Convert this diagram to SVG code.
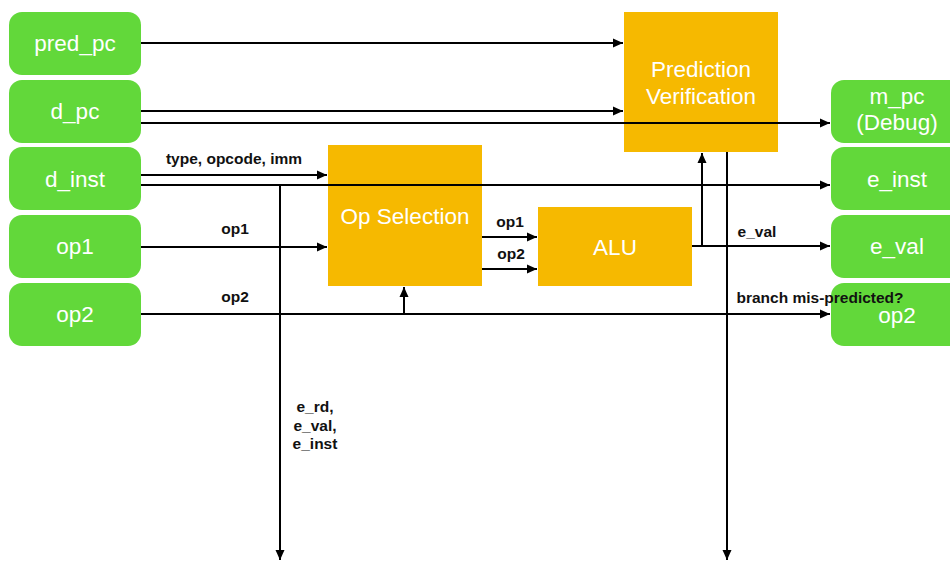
<svg xmlns="http://www.w3.org/2000/svg" width="950" height="561" viewBox="0 0 950 561">
  <defs>
    <marker id="arrow" viewBox="0 0 10 10" refX="10" refY="5" markerWidth="10" markerHeight="10" markerUnits="userSpaceOnUse" orient="auto">
      <path d="M0,0.5 L10,5 L0,9.5 Z" fill="#000"/>
    </marker>
  </defs>
  <style>
    .io { fill: #62d83a; }
    .blk { fill: #f6b900; }
    .nt { font-family: "Liberation Sans", Arial, Helvetica, sans-serif; font-size: 22.5px; fill: #fff; text-anchor: middle; }
    .lbl { font-family: "Liberation Sans", Arial, Helvetica, sans-serif; font-size: 15.5px; font-weight: bold; fill: #111; text-anchor: middle; }
    .w { stroke: #000; stroke-width: 2; fill: none; }
    .a { marker-end: url(#arrow); }
  </style>
  <rect width="950" height="561" fill="#fff"/>

  <!-- input registers -->
  <g id="pred_pc"><rect class="io" x="9" y="12" width="132" height="63" rx="13"/><text class="nt" x="75" y="51">pred_pc</text></g>
  <g id="d_pc"><rect class="io" x="9" y="80" width="132" height="63" rx="13"/><text class="nt" x="75" y="119">d_pc</text></g>
  <g id="d_inst"><rect class="io" x="9" y="147" width="132" height="63" rx="13"/><text class="nt" x="75" y="187">d_inst</text></g>
  <g id="op1_in"><rect class="io" x="9" y="215" width="132" height="63" rx="13"/><text class="nt" x="75" y="254">op1</text></g>
  <g id="op2_in"><rect class="io" x="9" y="283" width="132" height="63" rx="13"/><text class="nt" x="75" y="322">op2</text></g>

  <!-- output registers -->
  <g id="m_pc"><rect class="io" x="831" y="80" width="132" height="63" rx="13"/><text class="nt" x="897" y="104">m_pc</text><text class="nt" x="897" y="130">(Debug)</text></g>
  <g id="e_inst"><rect class="io" x="831" y="147" width="132" height="63" rx="13"/><text class="nt" x="897" y="187">e_inst</text></g>
  <g id="e_val"><rect class="io" x="831" y="215" width="132" height="63" rx="13"/><text class="nt" x="897" y="254">e_val</text></g>
  <g id="op2_out"><rect class="io" x="831" y="283" width="132" height="63" rx="13"/><text class="nt" x="897" y="323">op2</text></g>

  <!-- functional blocks -->
  <g id="pred_verif"><rect class="blk" x="624" y="12" width="154" height="140"/><text class="nt" x="701" y="77">Prediction</text><text class="nt" x="701" y="104">Verification</text></g>
  <g id="op_sel"><rect class="blk" x="328" y="145" width="154" height="141"/><text class="nt" x="405" y="224">Op Selection</text></g>
  <g id="alu"><rect class="blk" x="538" y="207" width="154" height="79"/><text class="nt" x="615" y="255">ALU</text></g>

  <!-- connectors -->
  <g id="connectors">
    <path class="w a" d="M141,43 H623"/>
    <path class="w a" d="M141,111 H623"/>
    <path class="w a" d="M141,123 H830"/>
    <path class="w a" d="M141,175 H327"/>
    <path class="w a" d="M141,185 H830"/>
    <path class="w a" d="M280,185 V560"/>
    <path class="w a" d="M141,247 H327"/>
    <path class="w a" d="M141,314 H830"/>
    <path class="w a" d="M404,314 V287"/>
    <path class="w a" d="M482,237 H537"/>
    <path class="w a" d="M482,269 H537"/>
    <path class="w a" d="M692,246 H830"/>
    <path class="w a" d="M702,246 V153"/>
    <path class="w a" d="M727,152 V560"/>
  </g>

  <!-- connector labels -->
  <g id="labels">
    <text class="lbl" x="234" y="164">type, opcode, imm</text>
    <text class="lbl" x="235" y="234">op1</text>
    <text class="lbl" x="235" y="302">op2</text>
    <text class="lbl" x="510" y="227">op1</text>
    <text class="lbl" x="511" y="259">op2</text>
    <text class="lbl" x="757" y="237">e_val</text>
    <text class="lbl" x="820" y="303">branch mis-predicted?</text>
    <text class="lbl" x="315" y="412">e_rd,</text>
    <text class="lbl" x="315" y="431">e_val,</text>
    <text class="lbl" x="315" y="449">e_inst</text>
  </g>
</svg>
